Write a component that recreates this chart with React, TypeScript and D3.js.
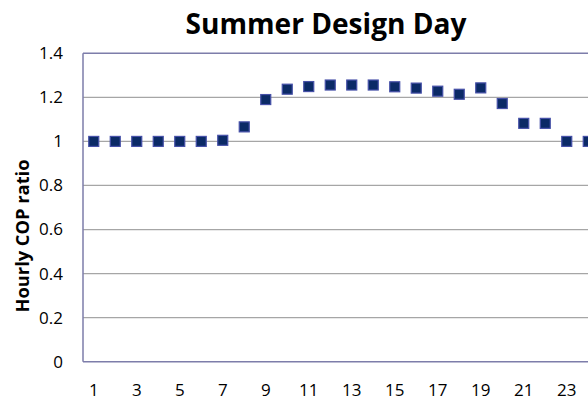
import React from "react";
import * as d3 from "d3";

const hours = [1, 2, 3, 4, 5, 6, 7, 8, 9, 10, 11, 12, 13, 14, 15, 16, 17, 18, 19, 20, 21, 22, 23, 24];
const copRatio = [1.0, 1.0, 1.0, 1.0, 1.0, 1.0, 1.005, 1.066, 1.19, 1.237, 1.249, 1.256, 1.256, 1.256, 1.248, 1.242, 1.228, 1.214, 1.243, 1.172, 1.082, 1.082, 1.0, 1.0];
const yTicks = [0, 0.2, 0.4, 0.6, 0.8, 1, 1.2, 1.4];
const xTickLabels = [1, 3, 5, 7, 9, 11, 13, 15, 17, 19, 21, 23];

export default function App() {
  const W = 588, H = 402;
  const left = 83, top = 53.3, bottom = 361.7;
  const x = d3.scaleBand<number>().domain(hours).range([left, left + 24 * 21.5]).padding(0);
  const y = d3.scaleLinear().domain([0, 1.4]).range([bottom, top]);
  const right = left + 24 * 21.5;
  const font = "Open Sans, Noto Sans, sans-serif";
  return (
    <svg width={W} height={H} style={{ position: "absolute", left: 0, top: 0, background: "#fff" }}>
      <text x={326} y={34} textAnchor="middle" fontFamily={font} fontWeight="bold" fontSize={28} fill="#000"
        textLength={281} lengthAdjust="spacingAndGlyphs">
        Summer Design Day
      </text>
      {yTicks.filter(t => t > 0 && t < 1.4).map(t => (
        <line key={t} x1={left} x2={right} y1={y(t)} y2={y(t)} stroke="#a6a6a6" strokeWidth={1.2} />
      ))}
      <line x1={left} x2={right} y1={top} y2={top} stroke="#7d7daa" strokeWidth={1.5} />
      <line x1={left} x2={right} y1={bottom} y2={bottom} stroke="#7d7daa" strokeWidth={1.5} />
      <line x1={left} x2={left} y1={top} y2={bottom} stroke="#7d7daa" strokeWidth={1.5} />
      {yTicks.map(t => (
        <text key={t} x={63} y={y(t)} dy="0.35em" textAnchor="end" fontFamily={font} fontSize={17} fill="#000">
          {String(t)}
        </text>
      ))}
      {xTickLabels.map(h => (
        <text key={h} x={(x(h) ?? 0) + x.bandwidth() / 2} y={390} dy="0.35em" textAnchor="middle" fontFamily={font} fontSize={17} fill="#000">
          {h}
        </text>
      ))}
      <text transform={`translate(23,236) rotate(-90)`} textAnchor="middle" dy="0.35em" fontFamily={font} fontWeight="bold" fontSize={17} fill="#000"
        textLength={153} lengthAdjust="spacingAndGlyphs">
        Hourly COP ratio
      </text>
      {hours.map((h, i) => {
        const cx = (x(h) ?? 0) + x.bandwidth() / 2;
        const cy = y(copRatio[i]);
        return (
          <rect key={h} x={cx - 5} y={cy - 5} width={10} height={10} fill="#0b2a66" stroke="#4650a8" strokeWidth={1.2} />
        );
      })}
    </svg>
  );
}
